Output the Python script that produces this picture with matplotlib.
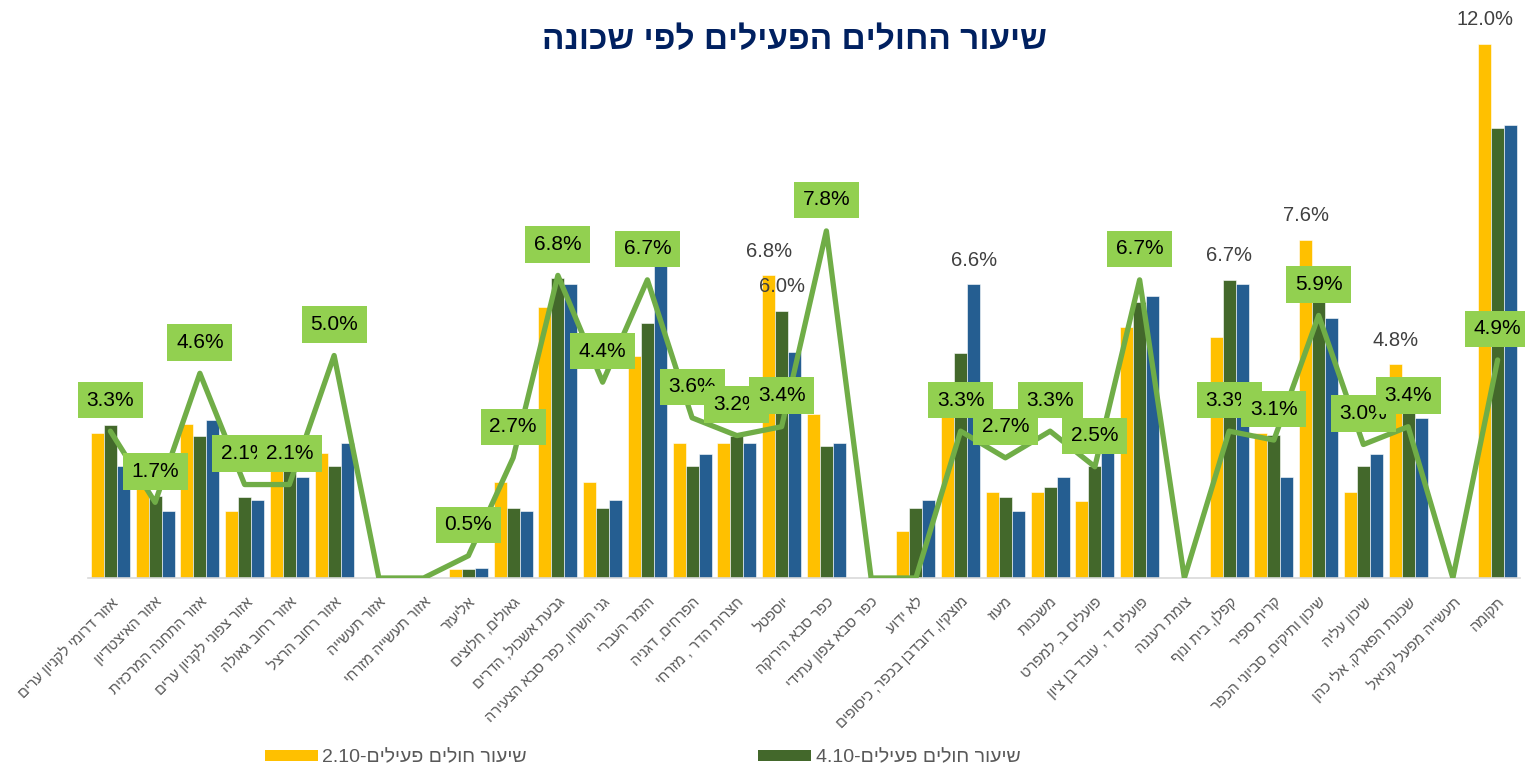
import matplotlib
matplotlib.use('Agg')
import matplotlib.pyplot as plt
import numpy as np
from matplotlib.patches import Patch

# ---------------- data ----------------
categories = [
    "אזור דרומי לקניון ערים", "אזור האיצטדיון", "אזור התחנה המרכזית", "אזור צפוני לקניון ערים",
    "אזור רחוב גאולה", "אזור רחוב הרצל", "אזור תעשייה", "אזור תעשייה מזרחי",
    "אליעזר", "גאולים, חלוצים", "גבעת אשכול, הדרים", "גני השרון, כפר סבא הצעירה",
    "הזמר העברי", "הפרחים, דגניה", "חצרות הדר , מזרחי", "יוספטל",
    "כפר סבא הירוקה", "כפר סבא צפון עתידי", "לא ידוע", "מוצקין, דובדבן בכפר, כיסופים",
    "מעוז", "משכנות", "פועלים ב, למפרט", "פועלים ד , עובד בן ציון",
    "צומת רעננה", "קפלן, בית ונוף", "קרית ספיר", "שיכון ותיקים, סביוני הכפר",
    "שיכון עליה", "שכונת הפארק, אלי כהן", "תעשייה מפעל קניאל", "תקומה",
]

rate_2_10 = [3.25, 2.0, 3.46, 1.5, 2.6, 2.81, 0, 0, 0.2, 2.15, 6.08, 2.15, 4.99, 3.03, 3.03, 6.8,
             3.68, 0, 1.06, 3.8, 1.93, 1.93, 1.72, 5.65, 0, 5.42, 3.25, 7.6, 1.94, 4.8, 0, 12.0]
rate_4_10 = [3.43, 1.85, 3.2, 1.82, 2.4, 2.51, 0, 0, 0.21, 1.58, 6.75, 1.58, 5.74, 2.52, 3.18, 6.0,
             2.97, 0, 1.58, 5.05, 1.82, 2.04, 2.52, 6.2, 0, 6.7, 3.21, 6.2, 2.52, 3.8, 0, 10.12]
rate_third = [2.52, 1.5, 3.54, 1.75, 2.27, 3.03, 0, 0, 0.23, 1.5, 6.6, 1.75, 7.05, 2.78, 3.03, 5.07,
              3.03, 0, 1.75, 6.6, 1.5, 2.27, 3.0, 6.34, 0, 6.6, 2.27, 5.85, 2.79, 3.6, 0, 10.17]
line_rate = [3.3, 1.7, 4.6, 2.1, 2.1, 5.0, 0, 0, 0.5, 2.7, 6.8, 4.4, 6.7, 3.6, 3.2, 3.4,
             7.8, 0, 0, 3.3, 2.7, 3.3, 2.5, 6.7, 0, 3.3, 3.1, 5.9, 3.0, 3.4, 0, 4.9]

# bars that carry a grey value label: (series index, category index)
labelled_bars = [(0, 15), (1, 15), (2, 19), (1, 25), (0, 27), (0, 29), (0, 31)]

title = "שיעור החולים הפעילים לפי שכונה"
legend_base = "שיעור חולים פעילים"
legend_dates = ["2.10", "4.10"]


def vis(s):
    """Visual (left-to-right) order for right-to-left Hebrew text."""
    return s[::-1]


# ---------------- style ----------------
YELLOW = "#FFC000"
DGREEN = "#43682B"
BLUE = "#255E91"
LGREEN = "#70AD47"
BOXG = "#92D050"

plt.rcParams['font.family'] = ['Liberation Sans', 'DejaVu Sans']

W, H = 1525, 769
fig = plt.figure(figsize=(W / 100, H / 100), dpi=100)
px_per_unit = 44.5
ymax = 12.9
ax_bottom = (H - 578) / H
ax_height = ymax * px_per_unit / H
ax = fig.add_axes([88 / W, ax_bottom, 1432 / W, ax_height])

x = np.arange(len(categories))
bw = 0.29
series = [rate_2_10, rate_4_10, rate_third]
colors = [YELLOW, DGREEN, BLUE]
offsets = [-bw, 0, bw]
for vals, col, off in zip(series, colors, offsets):
    ax.bar(x + off, vals, width=bw, color=col, edgecolor='white', linewidth=0.4, zorder=2)

for si, ci in labelled_bars:
    v = series[si][ci]
    ax.annotate(f"{v:.1f}%", (x[ci] + offsets[si], v), xytext=(0, 24), textcoords='offset pixels',
                ha='center', va='center', fontsize=14.5, color='#404040', zorder=3)

ax.plot(x, line_rate, color=LGREEN, linewidth=3.8, solid_joinstyle='round',
        solid_capstyle='round', zorder=4)

z = 5
for xi, v in zip(x, line_rate):
    if v > 0:
        ax.annotate(f"{v:.1f}%", (xi, v), xytext=(0, 31), textcoords='offset pixels',
                    ha='center', va='center', fontsize=15, color='black', zorder=z,
                    bbox=dict(boxstyle='square,pad=0.42', fc=BOXG, ec='none'))
        z += 1

ax.set_xlim(-0.5, len(categories) - 0.5)
ax.set_ylim(0, ymax)
ax.set_yticks([])
for sp in ['top', 'right', 'left']:
    ax.spines[sp].set_visible(False)
ax.spines['bottom'].set_color('#D9D9D9')
ax.spines['bottom'].set_linewidth(1.2)
ax.set_xticks(x)
ax.set_xticklabels([vis(c) for c in categories], rotation=45, ha='right',
                   rotation_mode='anchor', fontsize=10.5, color='#595959')
ax.tick_params(axis='x', length=0, pad=12)

fig.text(795 / W, 1 - 41 / H, vis(title), ha='center', va='center', fontsize=24,
         fontweight='bold', color='#002060')

handles = [Patch(facecolor=YELLOW), Patch(facecolor=DGREEN)]
labels = [d + "-" + vis(legend_base) for d in legend_dates]
fig.legend(handles, labels, loc='center left', bbox_to_anchor=(265 / W, 11 / H), ncol=2,
           frameon=False, fontsize=14, labelcolor='#595959', handlelength=2.7,
           handleheight=0.55, handletextpad=0.25, columnspacing=11.9, borderpad=0,
           borderaxespad=0)

fig.savefig("out.png", dpi=100)
